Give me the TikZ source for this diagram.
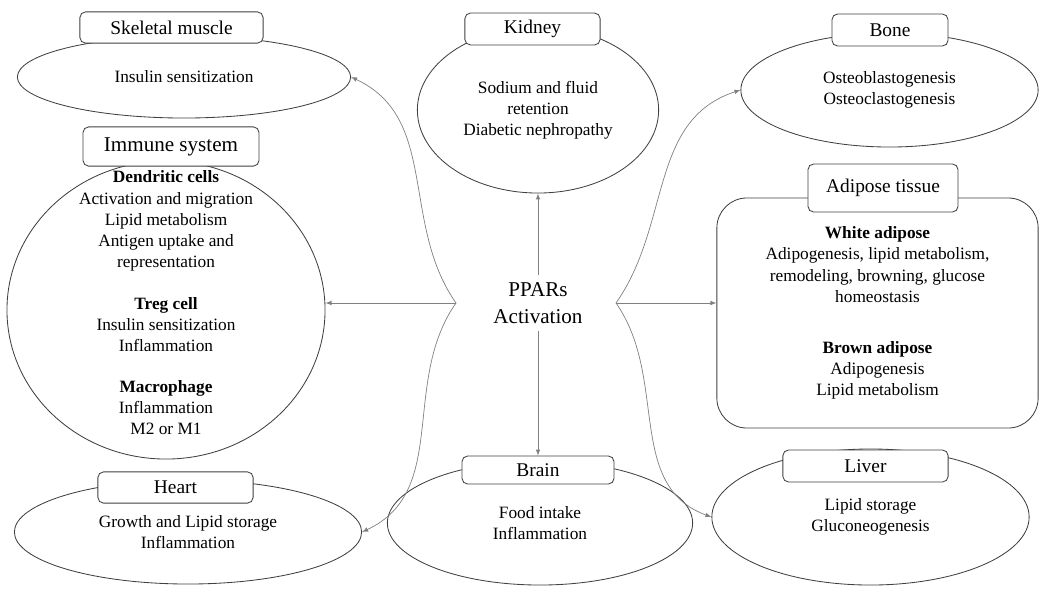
\documentclass[tikz,border=0pt]{standalone}
\usepackage{fontspec}
\setmainfont{Liberation Serif}
\usetikzlibrary{shapes.geometric}
\tikzset{
    organ/.style={ellipse, draw=black!75, line width=0.6pt, inner sep=0pt, align=center, font=\fontsize{12.3}{15}\selectfont},
    tag/.style={rectangle, rounded corners=4pt, draw=black!75, line width=0.6pt, fill=white, inner sep=0pt, font=\fontsize{13.8}{16}\selectfont},
    link/.style={draw=black!50, line width=0.5pt, -latex},
}
\begin{document}
\begin{tikzpicture}[x=0.025cm, y=-0.025cm]
            \useasboundingbox (0,0) rectangle (1040,588);
            % organs
            \node[organ, minimum width=8.33cm, minimum height=2.05cm] at (184,77) (skel) {Insulin sensitization};
            \node[organ, minimum width=7.95cm, minimum height=7.45cm] at (166,310) (immune) {};
            \node[anchor=center, align=center, inner sep=0pt, font=\fontsize{12.3}{15}\selectfont] at (166,303) (immuneTxt) {\textbf{Dendritic cells}\\Activation and migration\\Lipid metabolism\\Antigen uptake and\\representation\\[0.525cm]\textbf{Treg cell}\\Insulin sensitization\\Inflammation\\[0.5cm]\textbf{Macrophage}\\Inflammation\\M2 or M1};
            \node[organ, minimum width=8.68cm, minimum height=2.6cm] at (188,532) (heart) {Growth and Lipid storage\\Inflammation};
            \node[organ, minimum width=6.03cm, minimum height=4.15cm] at (538,110) (kidney) {Sodium and fluid\\retention\\Diabetic nephropathy};
            \node[organ, minimum width=7.63cm, minimum height=3.1cm] at (540,523) (brain) {Food intake\\Inflammation};
            \node[organ, minimum width=7.43cm, minimum height=2.85cm] at (889.5,90) (bone) {Osteoblastogenesis\\Osteoclastogenesis};
            \node[organ, rectangle, rounded corners=0.75cm, minimum width=8.03cm, minimum height=5.75cm] at (877.5,313) (adipose) {\textbf{White adipose}\\Adipogenesis, lipid metabolism,\\remodeling, browning, glucose\\homeostasis\\[0.75cm]\textbf{Brown adipose}\\Adipogenesis\\Lipid metabolism};
            \node[organ, minimum width=7.93cm, minimum height=3.4cm] at (870.5,517) (liver) {Lipid storage\\Gluconeogenesis};
            % tags
            \node[tag, minimum width=4.58cm, minimum height=0.78cm] at (171.5,27.5) (skelT) {Skeletal muscle};
            \node[tag, minimum width=4.4cm, minimum height=0.98cm, font=\fontsize{15}{17}\selectfont] at (171,146.5) (immuneT) {Immune system};
            \node[tag, minimum width=3.88cm, minimum height=0.78cm] at (175.5,487.5) (heartT) {Heart};
            \node[tag, minimum width=3.38cm, minimum height=0.8cm] at (532.5,29) (kidneyT) {Kidney};
            \node[tag, minimum width=3.8cm, minimum height=0.7cm] at (538,470) (brainT) {Brain};
            \node[tag, minimum width=2.9cm, minimum height=0.8cm] at (890,30) (boneT) {Bone};
            \node[tag, minimum width=3.75cm, minimum height=1.2cm] at (883,188) (adiposeT) {Adipose tissue};
            \node[tag, minimum width=4.13cm, minimum height=0.8cm] at (865.5,466) (liverT) {Liver};
            % hub
            \node[anchor=center, align=center, inner sep=5pt, font=\fontsize{15}{19.2}\selectfont] at (538,303) (ppar) {PPARs\\Activation};
            \coordinate (hubL) at (456,303);
            \coordinate (hubR) at (616,303);
            \draw[link] (ppar.north) -- (kidney.south);
            \draw[link] (ppar.south) -- (brainT.north);
            \draw[link] (hubL) -- (hubL -| immune.east);
            \draw[link] (hubR) -- (hubR -| adipose.west);
            \draw[link] (hubL) to[out=125, in=-25] (skel.east);
            \draw[link] (hubL) to[out=-125, in=25] (heart.east);
            \draw[link] (hubR) to[out=55, in=198] (bone.west);
            \draw[link] (hubR) to[out=-55, in=160] (liver.west);
        \end{tikzpicture}
\end{document}
